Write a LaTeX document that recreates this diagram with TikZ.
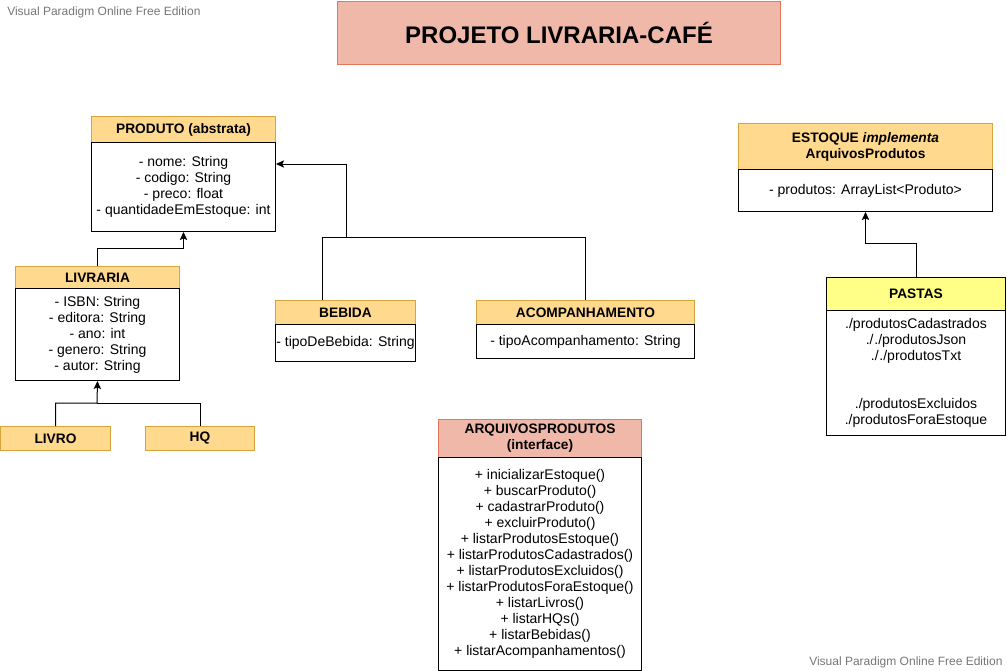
\documentclass[tikz,border=0pt]{standalone}
\usepackage{fontspec}
\setmainfont{Liberation Sans}
\usetikzlibrary{arrows.meta,calc}
\newcommand\px[1]{#1*0.75pt}
\definecolor{hdrfill}{HTML}{FFD98E}
\definecolor{hdrline}{HTML}{D9A43C}
\definecolor{redfill}{HTML}{F0B8A8}
\definecolor{redline}{HTML}{E5765A}
\definecolor{pastafill}{HTML}{FFFF88}
\definecolor{wm}{HTML}{777777}
\tikzset{
  hdr/.style={draw=hdrline, fill=hdrfill, line width=0.75pt, anchor=north west, inner sep=0pt, align=center,
    font={\fontsize{10.3}{12}\selectfont\bfseries}},
  body/.style={draw=black, fill=white, line width=0.75pt, anchor=north west, inner sep=0pt, align=center,
    font={\fontsize{10.5}{12}\selectfont}},
  conn/.style={draw=black, line width=0.75pt},
  arr/.style={conn, -{Stealth[length=6pt, width=5.5pt, inset=1.2pt]}},
  wmark/.style={text=wm, anchor=west, inner sep=0pt, font={\fontsize{9}{11}\selectfont}}
}
\begin{document}
\begin{tikzpicture}[x=0.75pt, y=-0.75pt]
\useasboundingbox (0,0) rectangle (1007,671);
\fill[white] (0,0) rectangle (1007,671);

% watermarks
\node[wmark] (wm1) at (7,12) {Visual Paradigm Online Free Edition};
\node[wmark] (wm2) at (809,662) {Visual Paradigm Online Free Edition};

% title
\node[draw=redline, fill=redfill, line width=0.75pt, anchor=north west, inner sep=0pt,
  minimum width=\px{443}, minimum height=\px{63}, font={\fontsize{18}{21}\selectfont\bfseries}]
  (title) at (337,1) {PROJETO LIVRARIA-CAFÉ};

% PRODUTO
\node[hdr, minimum width=\px{184}, minimum height=\px{26}] (prodH) at (91,116) {PRODUTO (abstrata)};
\node[body, minimum width=\px{184}, minimum height=\px{89}] (prodB) at (91,142)
  {- nome: String\\- codigo: String\\- preco: float\\- quantidadeEmEstoque: int};

% LIVRARIA
\node[hdr, minimum width=\px{164}, minimum height=\px{22}] (livH) at (15,266) {LIVRARIA};
\node[body, minimum width=\px{164}, minimum height=\px{92}] (livB) at (15,288)
  {- ISBN: String\\- editora: String\\- ano: int\\- genero: String\\- autor: String};

% LIVRO, HQ
\node[hdr, minimum width=\px{110}, minimum height=\px{24}] (livro) at (0,426) {LIVRO};
\node[hdr, minimum width=\px{109}, minimum height=\px{24}] (hq) at (145,426) {HQ};

% BEBIDA
\node[hdr, minimum width=\px{140}, minimum height=\px{24}] (bebH) at (275,300) {BEBIDA};
\node[body, minimum width=\px{140}, minimum height=\px{37}] (bebB) at (275,324) {- tipoDeBebida: String};

% ACOMPANHAMENTO
\node[hdr, minimum width=\px{218}, minimum height=\px{24}] (acH) at (476,300) {ACOMPANHAMENTO};
\node[body, minimum width=\px{218}, minimum height=\px{34}] (acB) at (476,324) {- tipoAcompanhamento: String};

% ESTOQUE
\node[hdr, minimum width=\px{254}, minimum height=\px{46}] (estH) at (738,123) {ESTOQUE \textit{implementa}\\ArquivosProdutos};
\node[body, minimum width=\px{254}, minimum height=\px{42}] (estB) at (738,169) {- produtos: ArrayList<Produto>};

% PASTAS
\node[hdr, draw=black, fill=pastafill, minimum width=\px{179}, minimum height=\px{33}] (pasH) at (826,277) {PASTAS};
\node[body, minimum width=\px{179}, minimum height=\px{125}] (pasB) at (826,310)
  {./produtosCadastrados\\./\kern0.6pt./produtosJson\\./\kern0.6pt./produtosTxt\\[24pt]./produtosExcluidos\\./produtosForaEstoque};

% ARQUIVOSPRODUTOS
\node[hdr, draw=redline, fill=redfill, minimum width=\px{203}, minimum height=\px{38}] (arqH) at (438,419) {ARQUIVOSPRODUTOS\\(interface)};
\node[body, minimum width=\px{203}, minimum height=\px{213}] (arqB) at (438,457)
  {+ inicializarEstoque()\\+ buscarProduto()\\+ cadastrarProduto()\\+ excluirProduto()\\+ listarProdutosEstoque()\\+ listarProdutosCadastrados()\\+ listarProdutosExcluidos()\\+ listarProdutosForaEstoque()\\+ listarLivros()\\+ listarHQs()\\+ listarBebidas()\\+ listarAcompanhamentos()};

% connectors
\coordinate (jl) at (97,403);
\draw[arr] (livro.north) |- (jl) -- (livB.south);
\draw[conn] (hq.north) |- (jl);

\draw[arr] (livH.north) -- ++(0,-18) -| (prodB.south);

\coordinate (jp) at (346,237);
\coordinate (bx) at ($(bebH.north)+(-23,0)$);
\coordinate (pin) at ($(prodB.north east)+(0,22)$);
\draw[arr] (acH.north) |- (jp) |- (pin);
\draw[conn] (bx) |- (jp);

\draw[arr] (pasH.north) -- ++(0,-34) -| (estB.south);
\end{tikzpicture}
\end{document}
